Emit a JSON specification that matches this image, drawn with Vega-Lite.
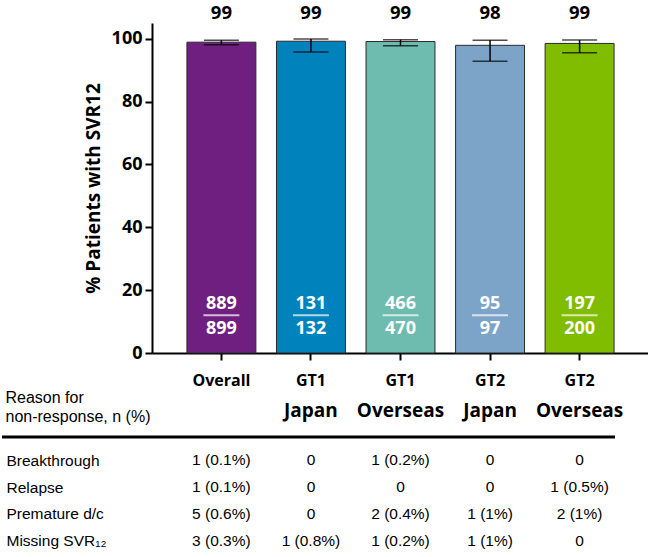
{
  "$schema": "https://vega.github.io/schema/vega-lite/v6.json",
  "autosize": {"type": "pad"},
  "padding": {"left": 0, "top": 4, "right": 0, "bottom": 0},
  "background": "white",
  "spacing": 94,
  "bounds": "flush",
  "config": {"view": {"stroke": null}, "font": "Open Sans"},
  "resolve": {"scale": {"x": "independent", "y": "independent"}},
  "datasets": {
    "groups": [
      {"group": "Overall", "pct": 98.9, "lo": 98.1, "hi": 99.5, "label": "99", "n": "889", "N": "899"},
      {"group": "GT1 Japan", "pct": 99.2, "lo": 95.8, "hi": 99.9, "label": "99", "n": "131", "N": "132"},
      {"group": "GT1 Overseas", "pct": 99.1, "lo": 97.8, "hi": 99.7, "label": "99", "n": "466", "N": "470"},
      {"group": "GT2 Japan", "pct": 97.9, "lo": 92.8, "hi": 99.5, "label": "98", "n": "95", "N": "97"},
      {"group": "GT2 Overseas", "pct": 98.5, "lo": 95.5, "hi": 99.6, "label": "99", "n": "197", "N": "200"}
    ],
    "table": [
      {"reason": "Breakthrough", "group": "Overall", "value": "1 (0.1%)"},
      {"reason": "Breakthrough", "group": "GT1 Japan", "value": "0"},
      {"reason": "Breakthrough", "group": "GT1 Overseas", "value": "1 (0.2%)"},
      {"reason": "Breakthrough", "group": "GT2 Japan", "value": "0"},
      {"reason": "Breakthrough", "group": "GT2 Overseas", "value": "0"},
      {"reason": "Relapse", "group": "Overall", "value": "1 (0.1%)"},
      {"reason": "Relapse", "group": "GT1 Japan", "value": "0"},
      {"reason": "Relapse", "group": "GT1 Overseas", "value": "0"},
      {"reason": "Relapse", "group": "GT2 Japan", "value": "0"},
      {"reason": "Relapse", "group": "GT2 Overseas", "value": "1 (0.5%)"},
      {"reason": "Premature d/c", "group": "Overall", "value": "5 (0.6%)"},
      {"reason": "Premature d/c", "group": "GT1 Japan", "value": "0"},
      {"reason": "Premature d/c", "group": "GT1 Overseas", "value": "2 (0.4%)"},
      {"reason": "Premature d/c", "group": "GT2 Japan", "value": "1 (1%)"},
      {"reason": "Premature d/c", "group": "GT2 Overseas", "value": "2 (1%)"},
      {"reason": "Missing SVR₁₂", "group": "Overall", "value": "3 (0.3%)"},
      {"reason": "Missing SVR₁₂", "group": "GT1 Japan", "value": "1 (0.8%)"},
      {"reason": "Missing SVR₁₂", "group": "GT1 Overseas", "value": "1 (0.2%)"},
      {"reason": "Missing SVR₁₂", "group": "GT2 Japan", "value": "1 (1%)"},
      {"reason": "Missing SVR₁₂", "group": "GT2 Overseas", "value": "0"}
    ]
  },
  "vconcat": [
    {
      "width": 497,
      "height": 330,
      "data": {"name": "groups"},
      "encoding": {
        "x": {
          "field": "group", "type": "nominal", "sort": null,
          "scale": {"type": "band", "paddingInner": 0.23, "paddingOuter": 0.39},
          "axis": {
            "title": null, "labelAngle": 0,
            "labelExpr": "split(datum.value, ' ')[0]",
            "labelFont": "Open Sans", "labelFontSize": 16, "labelFontWeight": "bold", "labelColor": "black",
            "domainColor": "black", "domainWidth": 2,
            "tickColor": "black", "tickWidth": 2, "tickSize": 7, "labelPadding": 12
          }
        }
      },
      "layer": [
        {
          "mark": {"type": "bar", "stroke": "#2a2a2a", "strokeWidth": 1},
          "encoding": {
            "y": {
              "field": "pct", "type": "quantitative",
              "scale": {"domain": [0, 105], "nice": false, "zero": true},
              "axis": {
                "values": [0, 20, 40, 60, 80, 100],
                "title": "% Patients with SVR12",
                "titleFont": "Open Sans", "titleFontSize": 19, "titleFontWeight": "bold", "titleColor": "black",
                "titlePadding": 8,
                "labelFont": "Open Sans", "labelFontSize": 18, "labelFontWeight": "bold", "labelColor": "black",
                "domainColor": "black", "domainWidth": 2,
                "tickColor": "black", "tickWidth": 2, "tickSize": 7, "labelPadding": 3,
                "grid": false
              }
            },
            "color": {
              "field": "group", "type": "nominal", "legend": null,
              "scale": {
                "domain": ["Overall", "GT1 Japan", "GT1 Overseas", "GT2 Japan", "GT2 Overseas"],
                "range": ["#6e1f80", "#0082bd", "#6dbcaf", "#7ca4c9", "#80bc00"]
              }
            }
          }
        },
        {
          "mark": {"type": "rule", "color": "black", "strokeWidth": 1.5},
          "encoding": {
            "y": {"field": "lo", "type": "quantitative", "title": "% Patients with SVR12"},
            "y2": {"field": "hi"}
          }
        },
        {
          "mark": {"type": "tick", "color": "black", "size": 35, "thickness": 1.5},
          "encoding": {"y": {"field": "lo", "type": "quantitative", "title": "% Patients with SVR12"}}
        },
        {
          "mark": {"type": "tick", "color": "black", "size": 35, "thickness": 1.5},
          "encoding": {"y": {"field": "hi", "type": "quantitative", "title": "% Patients with SVR12"}}
        },
        {
          "mark": {"type": "text", "font": "Open Sans", "fontSize": 18.5, "fontWeight": "bold", "color": "black", "dy": -10, "baseline": "middle"},
          "encoding": {"y": {"datum": 105}, "text": {"field": "label"}}
        },
        {
          "mark": {"type": "text", "font": "Open Sans", "fontSize": 18, "fontWeight": "bold", "color": "white", "baseline": "middle"},
          "encoding": {"y": {"datum": 15.5}, "text": {"field": "n"}}
        },
        {
          "mark": {"type": "text", "font": "Open Sans", "fontSize": 18, "fontWeight": "bold", "color": "white", "baseline": "middle"},
          "encoding": {"y": {"datum": 7.6}, "text": {"field": "N"}}
        },
        {
          "mark": {"type": "tick", "color": "white", "size": 36, "thickness": 2},
          "encoding": {"y": {"datum": 12.0}}
        }
      ]
    },
    {
      "width": 497,
      "height": 107,
      "data": {"name": "table"},
      "layer": [
        {
          "mark": {"type": "text", "font": "Liberation Sans", "fontSize": 15.5, "color": "black", "baseline": "middle"},
          "encoding": {
            "x": {
              "field": "group", "type": "nominal",
              "scale": {"type": "band", "domain": ["Overall", "GT1 Japan", "GT1 Overseas", "GT2 Japan", "GT2 Overseas"], "paddingInner": 0.23, "paddingOuter": 0.39},
              "axis": {
                "orient": "top", "title": null, "labelAngle": 0,
                "labelExpr": "indexof(datum.value, ' ') > 0 ? split(datum.value, ' ')[1] : ''",
                "labelFont": "Open Sans", "labelFontSize": 19, "labelFontWeight": "bold", "labelColor": "black",
                "domain": false, "ticks": false, "labelPadding": 27
              }
            },
            "y": {
              "field": "reason", "type": "nominal",
              "scale": {"type": "point", "padding": 0.5, "domain": ["Breakthrough", "Relapse", "Premature d/c", "Missing SVR₁₂"]},
              "axis": {
                "title": ["Reason for", "non-response, n (%)"],
                "titleAngle": 0, "titleAlign": "left", "titleBaseline": "top",
                "titleX": -147, "titleY": -58,
                "titleFont": "Liberation Sans", "titleFontSize": 16, "titleFontWeight": "normal", "titleColor": "black", "titleLineHeight": 19,
                "labelAlign": "left", "labelPadding": 146,
                "labelFont": "Liberation Sans", "labelFontSize": 15.5, "labelColor": "black",
                "domain": false, "ticks": false, "grid": false
              }
            },
            "text": {"field": "value"}
          }
        },
        {
          "data": {"values": [{}]},
          "mark": {"type": "rule", "color": "black", "strokeWidth": 3},
          "encoding": {"x": {"value": -150}, "x2": {"value": 463}, "y": {"value": -10}}
        }
      ]
    }
  ]
}
